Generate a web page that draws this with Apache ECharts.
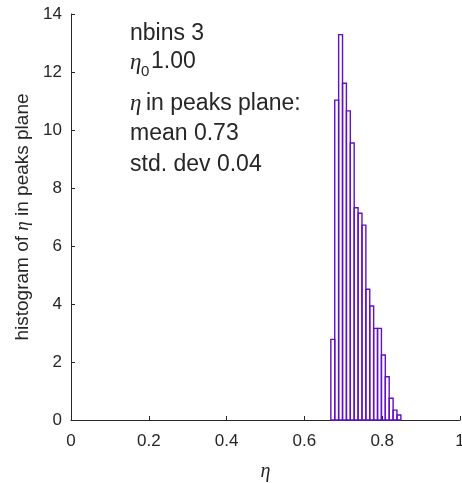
<!DOCTYPE html>
<html>
<head>
<meta charset="utf-8">
<script src="https://cdn.jsdelivr.net/npm/echarts@6/dist/echarts.min.js"></script>
<style>html,body{margin:0;padding:0;background:#fff}#c{width:462px;height:483px}</style>
</head>
<body>
<div id="c"></div>
<script>
// Bin left edges (width 0.01) and normalized histogram heights
var binLeft = [0.668, 0.678, 0.688, 0.698, 0.708, 0.718, 0.728, 0.738, 0.748, 0.758, 0.768, 0.778, 0.788, 0.798, 0.808, 0.818, 0.828, 0.838];
var binWidth = 0.01;
var counts = [2.78, 11.03, 13.29, 11.61, 10.66, 9.55, 7.32, 7.13, 6.72, 4.51, 3.93, 3.16, 3.16, 2.24, 1.49, 0.75, 0.34, 0.17];
var xTicks = [0, 0.2, 0.4, 0.6, 0.8, 1];
var yTicks = [0, 2, 4, 6, 8, 10, 12, 14];
var annot = ['nbins 3', '1.00', 'in peaks plane:', 'mean 0.73', 'std. dev 0.04'];

var data = binLeft.map(function (l, i) { return [l, l + binWidth, counts[i]]; });
var axisColor = '#262626';
var barColor = '#6210c8';
var sans = 'Liberation Sans, Arial, Helvetica, sans-serif';
var serif = 'Liberation Serif, Times New Roman, serif';

var chart = echarts.init(document.getElementById('c'), null, {renderer: 'canvas'});
chart.setOption({
  animation: false,
  backgroundColor: '#fff',
  grid: {left: 71, right: 2, top: 14, bottom: 63, containLabel: false, outerBoundsMode: 'none'},
  xAxis: {
    type: 'value', min: 0, max: 1, interval: 0.2,
    name: 'η', nameLocation: 'middle', nameGap: 42,
    nameTextStyle: {fontFamily: serif, fontStyle: 'italic', fontSize: 20, color: axisColor},
    axisLine: {show: true, lineStyle: {color: axisColor, width: 1}},
    axisTick: {show: true, inside: true, length: 4, lineStyle: {color: axisColor}},
    axisLabel: {fontFamily: sans, fontSize: 17, color: axisColor, margin: 13, hideOverlap: false,
      formatter: function (v) { return String(Math.round(v * 10) / 10); }},
    splitLine: {show: false}
  },
  yAxis: {
    type: 'value', min: 0, max: 14, interval: 2,
    name: 'histogram of {e|η} in peaks plane', nameLocation: 'middle', nameGap: 36,
    nameTextStyle: {fontFamily: sans, fontSize: 19, color: axisColor,
      rich: {e: {fontFamily: serif, fontStyle: 'italic', fontSize: 19, color: axisColor}}},
    axisLine: {show: true, lineStyle: {color: axisColor, width: 1}},
    axisTick: {show: true, inside: true, length: 4, lineStyle: {color: axisColor}},
    axisLabel: {fontFamily: sans, fontSize: 17, color: axisColor, margin: 9},
    splitLine: {show: false}
  },
  series: [{
    type: 'custom',
    data: data,
    encode: {x: [0, 1], y: 2},
    renderItem: function (params, api) {
      var p0 = api.coord([api.value(0), 0]);
      var p1 = api.coord([api.value(1), api.value(2)]);
      return {
        type: 'rect',
        shape: {x: p0[0], y: p1[1], width: p1[0] - p0[0], height: p0[1] - p1[1]},
        style: {fill: 'rgba(255,255,255,0)', stroke: barColor, lineWidth: 1.4}
      };
    }
  }],
  graphic: [
    {type: 'text', left: 130, top: 22, style: {text: annot[0], font: '23px ' + sans, fill: axisColor}},
    {type: 'text', left: 130, top: 51, style: {text: 'η', font: 'italic 23px ' + serif, fill: axisColor}},
    {type: 'text', left: 141, top: 64, style: {text: '0', font: '15px ' + sans, fill: axisColor}},
    {type: 'text', left: 151, top: 50, style: {text: annot[1], font: '23px ' + sans, fill: axisColor}},
    {type: 'text', left: 130, top: 92, style: {text: 'η', font: 'italic 23px ' + serif, fill: axisColor}},
    {type: 'text', left: 146, top: 92, style: {text: annot[2], font: '23px ' + sans, fill: axisColor}},
    {type: 'text', left: 130, top: 122, style: {text: annot[3], font: '23px ' + sans, fill: axisColor}},
    {type: 'text', left: 130, top: 153, style: {text: annot[4], font: '23px ' + sans, fill: axisColor}}
  ]
});
</script>
</body>
</html>
